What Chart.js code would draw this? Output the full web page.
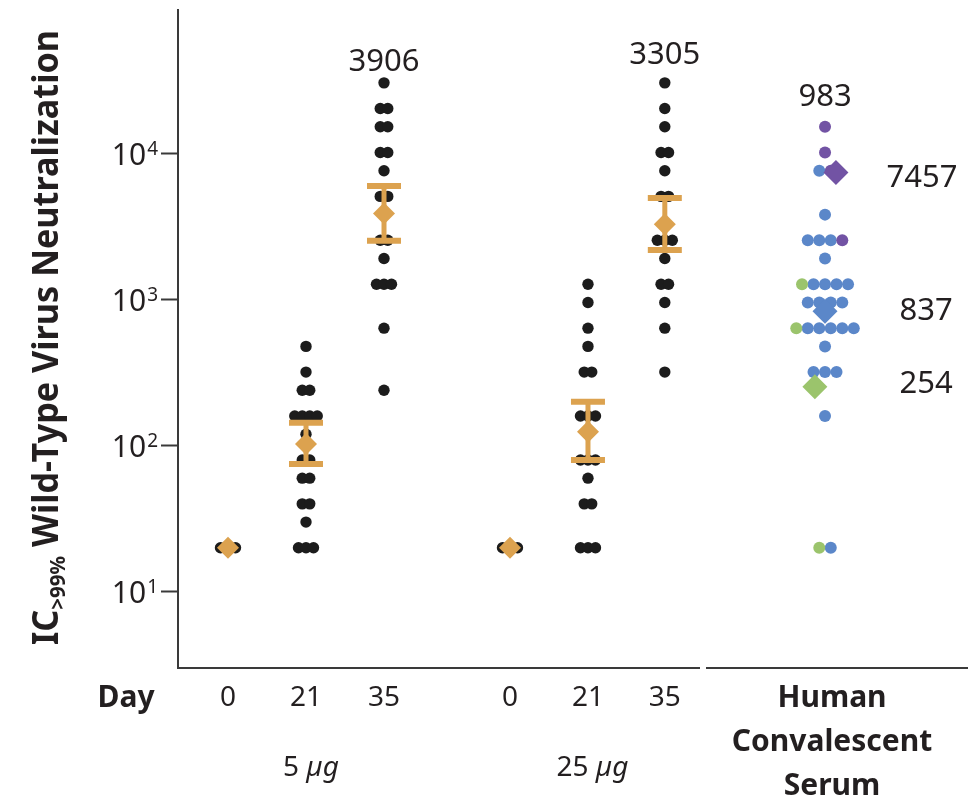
<!DOCTYPE html>
<html>
<head>
<meta charset="utf-8">
<script src="https://cdn.jsdelivr.net/npm/chart.js@4.4.1/dist/chart.umd.min.js"></script>
<style>
html, body { margin: 0; padding: 0; background: #fff; }
#wrap { width: 968px; height: 802px; position: relative; }
</style>
</head>
<body>
<div id="wrap"><canvas id="myChart"></canvas></div>
<script>
// x axis groups
const dayLabels = ['0', '21', '35', '0', '21', '35'];
const doseLabels = ['5 µg', '25 µg'];
const serumLabel = ['Human', 'Convalescent', 'Serum'];

// individual titers (IC>99%), vaccine groups
const day0_5ug = [20, 20, 20];
const day21_5ug = [480, 320, 240, 240, 160, 160, 160, 160, 120, 80, 80, 60, 60, 40, 40, 30, 20, 20, 20];
const day35_5ug = [30720, 20480, 20480, 15360, 15360, 10240, 10240, 7680, 5120, 5120, 2560, 2560, 1920, 1280, 1280, 1280, 640, 240];
const day0_25ug = [20, 20, 20];
const day21_25ug = [1280, 960, 640, 480, 320, 320, 160, 160, 160, 80, 80, 80, 60, 40, 40, 20, 20, 20];
const day35_25ug = [30720, 20480, 15360, 10240, 10240, 7680, 5120, 5120, 2560, 2560, 2560, 1920, 1280, 1280, 960, 640, 320];

// convalescent serum, by subgroup
const serumGreen = [1280, 640, 20];
const serumBlue = [7680, 3840, 2560, 2560, 2560, 1920, 1280, 1280, 1280, 1280, 960, 960, 960, 960,
  640, 640, 640, 640, 640, 480, 320, 320, 320, 160, 20];
const serumPurple = [15360, 10240, 7680, 2560];

// geometric mean titers and 95% CI
const gmtVaccine = [20, 103, 3906, 20, 125, 3305];
const ciLow = [null, 75, 2540, null, 80, 2200];
const ciHigh = [null, 144, 6040, null, 200, 5000];
const gmtSerum = [254, 837, 7457]; // green, blue, purple
const gmtSerumAll = 983;

// layout
const POS = [0, 1, 2, 3.615, 4.615, 5.6, 7.654];
const X_MIN = -0.641, X_MAX = 9.487;
const AREA_LEFT = 178, AREA_TOP = 10, AREA_BOTTOM = 668;
const PX_PER_UNIT = (968 - AREA_LEFT) / (X_MAX - X_MIN);

const INK = '#231f20';
const AXIS = '#3a3a3a';
const ORANGE = '#dca24f';
const GREEN = '#9bc46c';
const BLUE = '#5b87c9';
const PURPLE = '#7253a4';
const FONT = '"Noto Sans", "Open Sans", sans-serif';

// spread equal values side by side (beeswarm rows)
function swarm(groups, center, gapPx) {
  const rows = new Map();
  groups.forEach(function (g, gi) {
    g.forEach(function (v) {
      if (!rows.has(v)) rows.set(v, []);
      rows.get(v).push(gi);
    });
  });
  const out = groups.map(function () { return []; });
  rows.forEach(function (members, v) {
    members.forEach(function (gi, i) {
      out[gi].push({ x: center + (i - (members.length - 1) / 2) * gapPx / PX_PER_UNIT, y: v });
    });
  });
  return out;
}

const vaccineGroups = [day0_5ug, day21_5ug, day35_5ug, day0_25ug, day21_25ug, day35_25ug];
let blackDots = [];
vaccineGroups.forEach(function (g, i) {
  blackDots = blackDots.concat(swarm([g], POS[i], 7.5)[0]);
});
const serumDots = swarm([serumGreen, serumBlue, serumPurple], POS[6], 11.5);

const gmtPoints = gmtVaccine.map(function (v, i) { return { x: POS[i], y: v }; });
const serumShift = [-0.13, 0, 0.14];
const serumGmtPoints = gmtSerum.map(function (v, i) { return { x: POS[6] + serumShift[i], y: v }; });

function drawErrorBars(chart) {
  const ctx = chart.ctx, xs = chart.scales.x, ys = chart.scales.y;
  ctx.save();
  ctx.strokeStyle = ORANGE;
  ctx.lineCap = 'butt';
  gmtVaccine.forEach(function (g, i) {
    if (ciLow[i] == null) return;
    const x = xs.getPixelForValue(POS[i]);
    const yTop = ys.getPixelForValue(ciHigh[i]);
    const yBot = ys.getPixelForValue(ciLow[i]);
    ctx.lineWidth = 5;
    ctx.beginPath();
    ctx.moveTo(x, yTop); ctx.lineTo(x, yBot);
    ctx.stroke();
    ctx.lineWidth = 6;
    ctx.beginPath();
    ctx.moveTo(x - 17, yTop); ctx.lineTo(x + 17, yTop);
    ctx.moveTo(x - 17, yBot); ctx.lineTo(x + 17, yBot);
    ctx.stroke();
  });
  ctx.restore();
}

function drawText(chart) {
  const ctx = chart.ctx, xs = chart.scales.x, ys = chart.scales.y;
  ctx.save();
  ctx.fillStyle = INK;

  // x axis line with gap before the serum column
  ctx.strokeStyle = AXIS;
  ctx.lineWidth = 2;
  ctx.beginPath();
  ctx.moveTo(AREA_LEFT - 1, AREA_BOTTOM); ctx.lineTo(700, AREA_BOTTOM);
  ctx.moveTo(706, AREA_BOTTOM); ctx.lineTo(968, AREA_BOTTOM);
  ctx.stroke();

  // y tick labels 10^n
  [1, 2, 3, 4].forEach(function (p) {
    const y = ys.getPixelForValue(Math.pow(10, p));
    ctx.textAlign = 'right';
    ctx.textBaseline = 'alphabetic';
    ctx.font = '19px ' + FONT;
    ctx.fillText(String(p), 158, y + 1);
    const supW = ctx.measureText(String(p)).width;
    ctx.font = '30px ' + FONT;
    ctx.fillText('10', 158 - supW - 1, y + 11);
  });

  // y title with subscript
  ctx.save();
  ctx.translate(58, 645);
  ctx.rotate(-Math.PI / 2);
  const big = 'bold 35px ' + FONT, small = 'bold 21px ' + FONT;
  ctx.font = big; const w1 = ctx.measureText('IC').width;
  ctx.font = small; const w2 = ctx.measureText('>99%').width;
  ctx.font = big; const w3 = ctx.measureText(' Wild-Type Virus Neutralization').width;
  ctx.scale(615 / (w1 + w2 + w3), 1);
  ctx.textAlign = 'left';
  ctx.font = big; ctx.fillText('IC', 0, 0);
  ctx.font = small; ctx.fillText('>99%', w1, 7);
  ctx.font = big; ctx.fillText(' Wild-Type Virus Neutralization', w1 + w2, 0);
  ctx.restore();

  // x labels
  ctx.textAlign = 'center';
  ctx.textBaseline = 'middle';
  ctx.font = '28px ' + FONT;
  dayLabels.forEach(function (t, i) {
    ctx.fillText(t, xs.getPixelForValue(POS[i]), 698);
  });
  ctx.font = 'bold 30px ' + FONT;
  ctx.fillText('Day', 126, 698);
  const serumX = xs.getPixelForValue(POS[6]) + 7;
  serumLabel.forEach(function (t, i) {
    ctx.fillText(t, serumX, 698 + i * 44);
  });

  // dose labels, "µg" in italic
  doseLabels.forEach(function (t, k) {
    const cx = (xs.getPixelForValue(POS[k * 3]) + xs.getPixelForValue(POS[k * 3 + 2])) / 2 + 5;
    const parts = t.split(' ');
    ctx.font = '28px ' + FONT;
    const a = parts[0] + ' ';
    const wa = ctx.measureText(a).width;
    ctx.font = 'italic 28px ' + FONT;
    const wb = ctx.measureText(parts[1]).width;
    const x0 = cx - (wa + wb) / 2;
    ctx.textAlign = 'left';
    ctx.font = '28px ' + FONT;
    ctx.fillText(a, x0, 768);
    ctx.font = 'italic 28px ' + FONT;
    ctx.fillText(parts[1], x0 + wa, 768);
  });

  // GMT annotations
  ctx.textAlign = 'center';
  ctx.font = '31px ' + FONT;
  ctx.fillText(String(gmtVaccine[2]), xs.getPixelForValue(POS[2]), ys.getPixelForValue(Math.max.apply(null, day35_5ug)) - 21);
  ctx.fillText(String(gmtVaccine[5]), xs.getPixelForValue(POS[5]), ys.getPixelForValue(Math.max.apply(null, day35_25ug)) - 28);
  ctx.fillText(String(gmtSerumAll), xs.getPixelForValue(POS[6]), ys.getPixelForValue(Math.max.apply(null, serumPurple)) - 30);
  const rightX = xs.getPixelForValue(POS[6]) + 97;
  ctx.fillText(String(gmtSerum[2]), rightX, ys.getPixelForValue(gmtSerum[2]) + 6);
  ctx.fillText(String(gmtSerum[1]), rightX + 4, ys.getPixelForValue(gmtSerum[1]));
  ctx.fillText(String(gmtSerum[0]), rightX + 4, ys.getPixelForValue(gmtSerum[0]) - 3);
  ctx.restore();
}

const decorPlugin = {
  id: 'decor',
  beforeDatasetDraw(chart, args) {
    if (chart.data.datasets[args.index].label === 'gmt') drawErrorBars(chart);
  },
  afterDraw(chart) {
    drawText(chart);
  }
};

const config = {
  type: 'scatter',
  data: {
    datasets: [
      { label: 'gmt', data: gmtPoints, order: 1, pointStyle: 'rectRot', pointRadius: 11,
        backgroundColor: ORANGE, borderWidth: 0 },
      { label: 'serum gmt', data: serumGmtPoints, order: 0, pointStyle: 'rectRot', pointRadius: 12.5,
        backgroundColor: [GREEN, BLUE, PURPLE], borderWidth: 0 },
      { label: 'purple', data: serumDots[2], order: 3, pointRadius: 6, backgroundColor: PURPLE, borderWidth: 0 },
      { label: 'green', data: serumDots[0], order: 3, pointRadius: 6, backgroundColor: GREEN, borderWidth: 0 },
      { label: 'blue', data: serumDots[1], order: 4, pointRadius: 6, backgroundColor: BLUE, borderWidth: 0 },
      { label: 'vaccine', data: blackDots, order: 5, pointRadius: 5.7, backgroundColor: '#1c1c1c', borderWidth: 0 }
    ]
  },
  options: {
    responsive: true,
    maintainAspectRatio: false,
    animation: false,
    devicePixelRatio: 1,
    layout: { autoPadding: false, padding: { left: 0, right: 0, top: AREA_TOP, bottom: 802 - AREA_BOTTOM } },
    plugins: { legend: { display: false }, tooltip: { enabled: false } },
    elements: { point: { hoverRadius: 0 } },
    scales: {
      x: { type: 'linear', min: X_MIN, max: X_MAX, display: false },
      y: {
        type: 'logarithmic', min: 3, max: 97000, position: 'left',
        border: { display: true, color: AXIS, width: 2 },
        grid: { drawOnChartArea: false, drawTicks: true, tickLength: 17, tickWidth: 2, color: AXIS },
        ticks: { display: false },
        afterBuildTicks: function (scale) {
          scale.ticks = [10, 100, 1000, 10000].map(function (v) { return { value: v }; });
        },
        afterFit: function (scale) { scale.width = AREA_LEFT; }
      }
    }
  },
  plugins: [decorPlugin]
};

window.onload = function () {
  new Chart(document.getElementById('myChart'), config);
};
</script>
</body>
</html>
